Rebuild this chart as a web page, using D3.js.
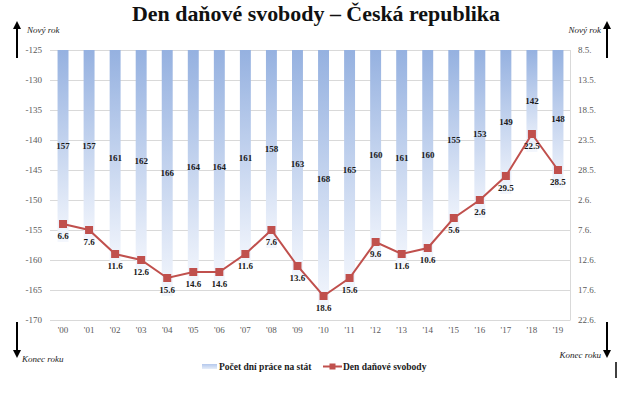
<!DOCTYPE html>
<html>
<head>
<meta charset="utf-8">
<script src="https://cdn.jsdelivr.net/npm/d3@7"></script>
<style>
  body { margin: 0; background: #fff; }
  svg text { font-family: "Liberation Serif", "DejaVu Serif", serif; }
</style>
</head>
<body>
<svg id="chart" width="623" height="398"></svg>
<script>
// chart data
const years = ["'00","'01","'02","'03","'04","'05","'06","'07","'08","'09","'10","'11","'12","'13","'14","'15","'16","'17","'18","'19"];
const workDays = [157, 157, 161, 162, 166, 164, 164, 161, 158, 163, 168, 165, 160, 161, 160, 155, 153, 149, 142, 148];
const freedomDates = ['6.6', '7.6', '11.6', '12.6', '15.6', '14.6', '14.6', '11.6', '7.6', '13.6', '18.6', '15.6', '9.6', '11.6', '10.6', '5.6', '2.6', '29.5', '22.5', '28.5'];
const leftTicks = [-125, -130, -135, -140, -145, -150, -155, -160, -165, -170];
const rightTicks = ['8.5.', '13.5.', '18.5.', '23.5.', '28.5.', '2.6.', '7.6.', '12.6.', '17.6.', '22.6.'];

const W = 623, H = 398;
const TOP = 50, BOTTOM = 320, LEFT = 50, RIGHT = 570;

// "d.m" -> date in a non-leap year
const parseDM = s => {
    const [d, m] = s.split('.').map(Number);
    return new Date(Date.UTC(2019, m - 1, d));
};

const svg = d3.select('#chart');

const x = d3.scaleBand()
    .domain(years)
    .range([LEFT, RIGHT + 1])
    .paddingInner(0.58)
    .paddingOuter(0.29);

const yLeft = d3.scaleLinear()
    .domain([-125, -170])
    .range([TOP, BOTTOM]);

const yRight = d3.scaleUtc()
    .domain([parseDM(rightTicks[0]), parseDM(rightTicks[rightTicks.length - 1])])
    .range([TOP, BOTTOM]);

// gradient for bars
const defs = svg.append('defs');
const grad = defs.append('linearGradient')
    .attr('id', 'barGrad')
    .attr('x1', 0).attr('y1', 0).attr('x2', 0).attr('y2', 1);
grad.append('stop').attr('offset', '0%').attr('stop-color', '#95b1e0');
grad.append('stop').attr('offset', '100%').attr('stop-color', '#f4f7fd');

const legGrad = defs.append('linearGradient')
    .attr('id', 'legGrad')
    .attr('x1', 0).attr('y1', 0).attr('x2', 0).attr('y2', 1);
legGrad.append('stop').attr('offset', '0%').attr('stop-color', '#b4c8ec');
legGrad.append('stop').attr('offset', '100%').attr('stop-color', '#e6edf9');

// title
svg.append('text')
    .attr('x', 316)
    .attr('y', 21)
    .attr('text-anchor', 'middle')
    .attr('font-size', 21)
    .attr('font-weight', 'bold')
    .attr('fill', '#111')
    .attr('textLength', 368)
    .attr('lengthAdjust', 'spacingAndGlyphs')
    .text('Den daňové svobody – Česká republika');

// grid lines
svg.append('g')
    .selectAll('line')
    .data(leftTicks)
    .enter()
    .append('line')
    .attr('x1', LEFT)
    .attr('x2', RIGHT)
    .attr('y1', d => Math.round(yLeft(d)) + 0.5)
    .attr('y2', d => Math.round(yLeft(d)) + 0.5)
    .attr('stroke', '#d9d9d9')
    .attr('stroke-width', 1);

// right axis line
svg.append('line')
    .attr('x1', RIGHT + 0.5).attr('x2', RIGHT + 0.5)
    .attr('y1', TOP).attr('y2', BOTTOM + 0.5)
    .attr('stroke', '#d9d9d9');

// left axis labels
const leftAxis = d3.axisLeft(yLeft)
    .tickValues(leftTicks)
    .tickSize(0)
    .tickPadding(8)
    .tickFormat(d => d);
const gl = svg.append('g')
    .attr('transform', `translate(${LEFT},0)`)
    .call(leftAxis);
gl.select('.domain').remove();
gl.selectAll('text')
    .attr('font-size', 9)
    .attr('fill', '#595959');

// right axis labels
const rightAxis = d3.axisRight(yRight)
    .tickValues(rightTicks.map(parseDM))
    .tickSize(0)
    .tickPadding(8)
    .tickFormat(d3.utcFormat('%-d.%-m.'));
const gr = svg.append('g')
    .attr('transform', `translate(${RIGHT},0)`)
    .call(rightAxis);
gr.select('.domain').remove();
gr.selectAll('text')
    .attr('font-size', 9)
    .attr('fill', '#595959');

// x axis labels
const xAxis = d3.axisBottom(x).tickSize(0).tickPadding(7);
const gx = svg.append('g')
    .attr('transform', `translate(0,${BOTTOM})`)
    .call(xAxis);
gx.select('.domain').remove();
gx.selectAll('text')
    .attr('font-size', 9)
    .attr('fill', '#595959');

// bars
const rows = years.map((yr, i) => ({
    year: yr,
    days: workDays[i],
    date: parseDM(freedomDates[i]),
    dateLabel: freedomDates[i]
}));

svg.append('g')
    .selectAll('rect')
    .data(rows)
    .enter()
    .append('rect')
    .attr('x', d => x(d.year))
    .attr('y', yLeft(-125))
    .attr('width', x.bandwidth())
    .attr('height', d => yLeft(-d.days) - yLeft(-125))
    .attr('fill', 'url(#barGrad)');

// bar labels
svg.append('g')
    .selectAll('text')
    .data(rows)
    .enter()
    .append('text')
    .attr('x', d => x(d.year) + x.bandwidth() / 2)
    .attr('y', d => (yLeft(-125) + yLeft(-d.days)) / 2)
    .attr('dy', '0.35em')
    .attr('text-anchor', 'middle')
    .attr('font-size', 9)
    .attr('font-weight', 'bold')
    .attr('fill', '#1a1a1a')
    .text(d => d.days);

// freedom-day line
const line = d3.line()
    .x(d => x(d.year) + x.bandwidth() / 2)
    .y(d => yRight(d.date));

svg.append('path')
    .datum(rows)
    .attr('d', line)
    .attr('fill', 'none')
    .attr('stroke', '#c0504d')
    .attr('stroke-width', 2);

svg.append('g')
    .selectAll('rect')
    .data(rows)
    .enter()
    .append('rect')
    .attr('x', d => x(d.year) + x.bandwidth() / 2 - 4)
    .attr('y', d => yRight(d.date) - 4)
    .attr('width', 8)
    .attr('height', 8)
    .attr('fill', '#c0504d');

svg.append('g')
    .selectAll('text')
    .data(rows)
    .enter()
    .append('text')
    .attr('x', d => x(d.year) + x.bandwidth() / 2)
    .attr('y', d => yRight(d.date) + 15)
    .attr('text-anchor', 'middle')
    .attr('font-size', 9)
    .attr('font-weight', 'bold')
    .attr('fill', '#1a1a1a')
    .text(d => d.dateLabel);

// corner arrows
function arrow(ax, yFrom, yTo) {
    const dir = yTo < yFrom ? -1 : 1;
    svg.append('line')
        .attr('x1', ax).attr('x2', ax)
        .attr('y1', yFrom).attr('y2', yTo - dir * 6)
        .attr('stroke', '#000').attr('stroke-width', 2);
    svg.append('path')
        .attr('d', `M${ax},${yTo} L${ax - 4},${yTo - dir * 8} L${ax + 4},${yTo - dir * 8} Z`)
        .attr('fill', '#000');
}
arrow(17, 58, 21);
arrow(607, 58, 21);
arrow(17, 322, 358);
arrow(607, 322, 358);

const corner = [
    { t: 'Nový rok', x: 27, y: 33, a: 'start' },
    { t: 'Nový rok', x: 601, y: 33, a: 'end' },
    { t: 'Konec roku', x: 22, y: 362, a: 'start' },
    { t: 'Konec roku', x: 601, y: 358, a: 'end' }
];
svg.append('g')
    .selectAll('text')
    .data(corner)
    .enter()
    .append('text')
    .attr('x', d => d.x)
    .attr('y', d => d.y)
    .attr('text-anchor', d => d.a)
    .attr('font-size', 9)
    .attr('font-style', 'italic')
    .attr('fill', '#222')
    .text(d => d.t);

// legend
const legend = svg.append('g').attr('id', 'legend');
legend.append('rect')
    .attr('x', 202).attr('y', 364)
    .attr('width', 15).attr('height', 5)
    .attr('fill', 'url(#legGrad)');
legend.append('text')
    .attr('x', 219).attr('y', 370)
    .attr('font-size', 9.5)
    .attr('font-weight', 'bold')
    .attr('fill', '#1a1a1a')
    .text('Počet dní práce na stát');
legend.append('line')
    .attr('x1', 323).attr('x2', 342)
    .attr('y1', 366.5).attr('y2', 366.5)
    .attr('stroke', '#c0504d').attr('stroke-width', 2);
legend.append('rect')
    .attr('x', 329.5).attr('y', 363.5)
    .attr('width', 6).attr('height', 6)
    .attr('fill', '#c0504d');
legend.append('text')
    .attr('x', 343).attr('y', 370)
    .attr('font-size', 9.5)
    .attr('font-weight', 'bold')
    .attr('fill', '#1a1a1a')
    .text('Den daňové svobody');

// stray frame mark at bottom right
svg.append('line')
    .attr('x1', 616).attr('x2', 616)
    .attr('y1', 362).attr('y2', 378)
    .attr('stroke', '#000').attr('stroke-width', 1.5);
</script>
</body>
</html>
